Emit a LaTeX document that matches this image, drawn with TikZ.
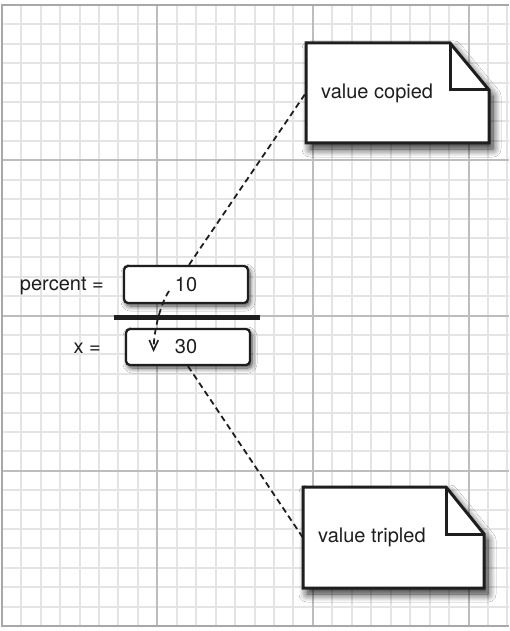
\documentclass[tikz,border=0pt]{standalone}
\usepackage{fontspec}
\setmainfont{TeX Gyre Heros}
\usetikzlibrary{arrows.meta,shadows.blur}
\definecolor{minorgrid}{HTML}{E4E4E4}
\definecolor{majorgrid}{HTML}{BDBDBD}
\definecolor{bordergrid}{HTML}{A8A8A8}
\definecolor{ink}{HTML}{1E1E1E}
\tikzset{
  valbox/.style={draw=ink, line width=2.3pt, rounded corners=4pt, fill=white,
    minimum width=124pt, minimum height=37pt, inner sep=0pt,
    font=\fontsize{20}{24}\selectfont, text=ink,
    blur shadow={shadow xshift=2pt, shadow yshift=-3pt, shadow blur steps=8,
      shadow blur radius=5pt, shadow opacity=75}},
  lbl/.style={font=\fontsize{20}{24}\selectfont, text=ink, inner sep=0pt},
  notearea/.style={inner sep=0pt},
  noteshape/.style={draw=ink, line width=3pt, fill=white, line join=miter,
    blur shadow={shadow xshift=4pt, shadow yshift=-6pt, shadow blur steps=10,
      shadow blur radius=8pt, shadow opacity=85}},
  foldline/.style={draw=ink, line width=3pt, line join=miter},
  link/.style={draw=ink, line width=1.8pt, dash pattern=on 6pt off 4pt},
  minorline/.style={minorgrid, line width=2pt},
  majorline/.style={majorgrid, line width=2pt},
}
\begin{document}
\begin{tikzpicture}[x=1pt,y=-1pt]
\useasboundingbox (0,0) rectangle (509,631);
\fill[white] (0,0) rectangle (509,631);
% grid
\foreach \i in {0,...,26} {
  \draw[minorline] ({1.7+\i*19.45},5) -- ({1.7+\i*19.45},626);
}
\foreach \j in {0,...,32} {
  \draw[minorline] (1.7,{5+\j*19.41}) -- (509,{5+\j*19.41});
}
\foreach \i in {8,16,24} {
  \draw[majorline] ({1.7+\i*19.45},5) -- ({1.7+\i*19.45},626);
}
\foreach \j in {8,16,24} {
  \draw[majorline] (1.7,{5+\j*19.41}) -- (509,{5+\j*19.41});
}
\draw[bordergrid, line width=2pt] (509,5) -- (1.7,5) -- (1.7,626) -- (509,626);

% notes
\path[noteshape] (306,43) -- (450,43) -- (489,90) -- (489,143) -- (306,143) -- cycle;
\draw[foldline] (450,43) -- (450,90) -- (489,90);
\node[notearea, minimum width=183pt, minimum height=100pt] (note1) at (397.5,93) {};
\node[lbl, anchor=west] (copiedtxt) at (321,93) {value copied};

\path[noteshape] (303,487) -- (446,487) -- (484,534) -- (484,588) -- (303,588) -- cycle;
\draw[foldline] (446,487) -- (446,534) -- (484,534);
\node[notearea, minimum width=181pt, minimum height=101pt] (note2) at (393.5,537.5) {};
\node[lbl, anchor=west] (tripledtxt) at (318,537) {value tripled};

% boxes
\node[valbox] (box10) at (186,284.5) {\raisebox{-2pt}{10}};
\node[valbox, minimum height=36pt] (box30) at (188,347) {\hspace*{-4pt}30};
\node[lbl, anchor=east] (percentlbl) at (104,286) {percent =};
\node[lbl, anchor=east] (xlbl) at (101,348) {x =};

% bar
\coordinate (barl) at (114,317);
\coordinate (barr) at (260,317);
\draw[ink, line width=5pt] (barl) -- (barr);

% connectors
\draw[link] ([xshift=3pt]box10.north) -- (note1.west);
\draw[link] (box30.south) -- (note2.west);
\coordinate (argstart) at (169,291);
\coordinate (argend) at (153.5,352);
\draw[link, -{Straight Barb[length=10pt,width=9pt,line width=1.6pt]}]
  (argstart) .. controls (160,305) and (154,330) .. (argend);
\end{tikzpicture}
\end{document}
